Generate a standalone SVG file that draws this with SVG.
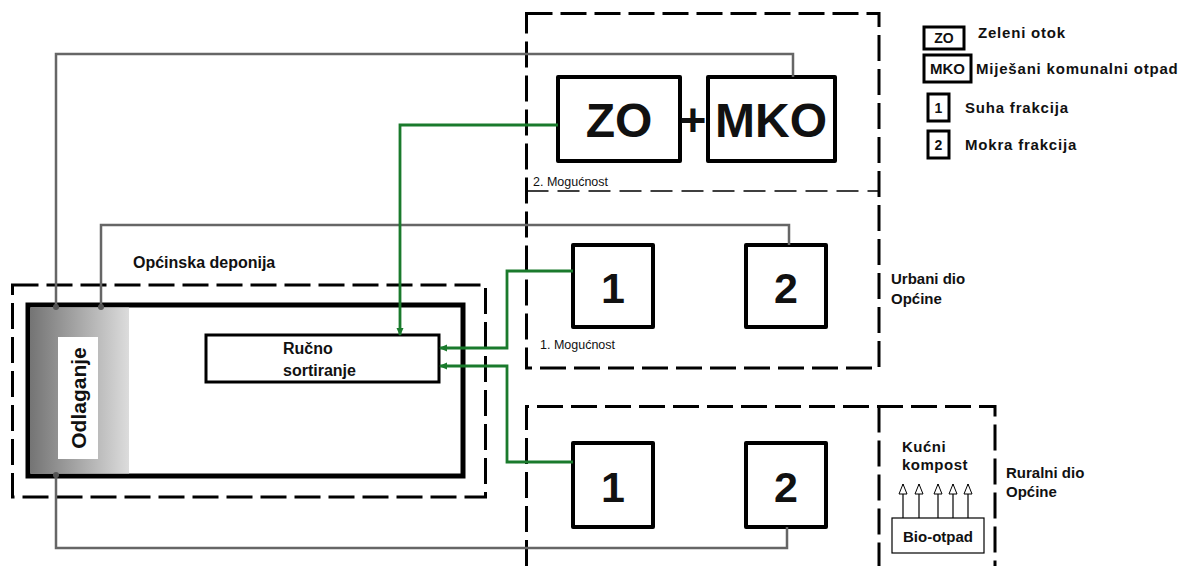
<svg xmlns="http://www.w3.org/2000/svg" width="1182" height="566" viewBox="0 0 1182 566">
<style>
text{font-family:"Liberation Sans",Arial,sans-serif;fill:#111}
.b{font-weight:bold}
.lg{font-weight:bold;font-size:15px;letter-spacing:0.8px}
.dash{fill:none;stroke:#000;stroke-width:3;stroke-dasharray:26 8}
.dash2{fill:none;stroke:#000;stroke-width:1.6;stroke-dasharray:22 9}
.box{fill:#fff;stroke:#000;stroke-width:4;stroke-linejoin:round}
.lbox{fill:#fff;stroke:#000;stroke-width:3}
.gray{fill:none;stroke:#666;stroke-width:2.5}
.green{fill:none;stroke:#1a7a2c;stroke-width:2.8}
.thin{fill:none;stroke:#000;stroke-width:1.2}
</style>
<defs>
<linearGradient id="gr" x1="0" y1="0" x2="1" y2="0">
<stop offset="0" stop-color="#747474"/>
<stop offset="1" stop-color="#dcdcdc"/>
</linearGradient>
<marker id="ga" markerWidth="8" markerHeight="8" refX="7" refY="4" orient="auto" markerUnits="userSpaceOnUse">
<path d="M0,0.5 L8,4 L0,7.5 Z" fill="#1a7a2c"/>
</marker>
<marker id="oa" markerWidth="12" markerHeight="10" refX="11" refY="5" orient="auto" markerUnits="userSpaceOnUse">
<path d="M1,1 L11,5 L1,9 Z" fill="#fff" stroke="#000" stroke-width="1"/>
</marker>
</defs>

<g id="regions">
<rect class="dash" x="526.5" y="13.5" width="352.5" height="354.5"/>
<line class="dash2" x1="526.5" y1="191" x2="879" y2="191"/>
<path class="dash" d="M526.5,566 V406.5 H995 V566"/>
<line class="dash" x1="879" y1="406.5" x2="879" y2="566"/>
<rect class="dash" x="12.5" y="285" width="473" height="212"/>
</g>

<g id="deponija">
<rect x="28" y="305" width="435" height="171" fill="#fff" stroke="#000" stroke-width="5"/>
<text class="b" x="133" y="268" font-size="16">Općinska deponija</text>
</g>

<g id="odlaganje">
<rect x="30" y="307.5" width="99" height="166" fill="url(#gr)"/>
<rect x="58" y="337" width="40" height="122" fill="#fff"/>
<text class="b" x="0" y="0" font-size="21" text-anchor="middle" transform="translate(86,398) rotate(-90)">Odlaganje</text>
</g>

<g id="rucno">
<rect x="206" y="335" width="233" height="47" fill="#fff" stroke="#000" stroke-width="3"/>
<text class="b" x="283" y="354" font-size="16">Ručno</text>
<text class="b" x="283" y="376" font-size="16">sortiranje</text>
</g>

<g id="zo">
<rect class="box" x="558" y="77" width="122" height="84"/>
<text class="b" x="619" y="137" font-size="48" text-anchor="middle">ZO</text>
</g>
<text class="b" x="693" y="136" font-size="46" text-anchor="middle">+</text>
<g id="mko">
<rect class="box" x="708" y="77" width="127" height="84"/>
<text class="b" x="771" y="137" font-size="48" text-anchor="middle">MKO</text>
</g>
<text x="533" y="186" font-size="12.5" fill="#333">2. Mogućnost</text>

<g id="u1">
<rect class="box" x="573" y="245" width="80" height="82"/>
<text class="b" x="613" y="303" font-size="43" text-anchor="middle">1</text>
</g>
<g id="u2">
<rect class="box" x="746" y="245" width="80" height="82"/>
<text class="b" x="786" y="303" font-size="43" text-anchor="middle">2</text>
</g>
<text x="540" y="349" font-size="12.5" fill="#333">1. Mogućnost</text>
<g id="urbani">
<text class="b" x="891" y="284" font-size="15">Urbani dio</text>
<text class="b" x="891" y="304" font-size="15">Općine</text>
</g>

<g id="r1">
<rect class="box" x="573" y="443" width="80" height="84"/>
<text class="b" x="613" y="502" font-size="43" text-anchor="middle">1</text>
</g>
<g id="r2">
<rect class="box" x="746" y="443" width="80" height="84"/>
<text class="b" x="786" y="502" font-size="43" text-anchor="middle">2</text>
</g>
<g id="ruralni">
<text class="b" x="1006" y="478" font-size="15">Ruralni dio</text>
<text class="b" x="1006" y="497" font-size="15">Općine</text>
</g>

<g id="kompost">
<text class="b" x="902" y="452" font-size="15" letter-spacing="0.5">Kućni</text>
<text class="b" x="902" y="470" font-size="15" letter-spacing="0.5">kompost</text>
</g>
<g id="bio">
<rect x="892" y="518" width="92" height="35" fill="#fff" stroke="#000" stroke-width="1.2"/>
<text class="b" x="938" y="542" font-size="15" text-anchor="middle">Bio-otpad</text>
</g>

<g id="legend">
<rect class="lbox" x="924" y="27" width="40" height="22"/>
<text class="b" x="944" y="43" font-size="14" text-anchor="middle">ZO</text>
<text class="lg" x="978" y="38">Zeleni otok</text>
<rect class="lbox" x="924" y="55" width="47" height="27"/>
<text class="b" x="947.5" y="74" font-size="15" text-anchor="middle">MKO</text>
<text class="lg" x="976" y="74" letter-spacing="0.4">Miješani komunalni otpad</text>
<rect class="lbox" x="928" y="94" width="21" height="27"/>
<text class="b" x="938.5" y="113" font-size="14" text-anchor="middle">1</text>
<text class="lg" x="965" y="113">Suha frakcija</text>
<rect class="lbox" x="928" y="131" width="21" height="27"/>
<text class="b" x="938.5" y="150" font-size="14" text-anchor="middle">2</text>
<text class="lg" x="965" y="150">Mokra frakcija</text>
</g>

<g id="connectors">
<path class="gray" d="M56,307 V54 H793 V77"/>
<path class="gray" d="M101,307 V225 H789 V245"/>
<path class="gray" d="M56,475 V548 H787 V527"/>
<circle cx="56" cy="307" r="3" fill="#555"/>
<circle cx="101" cy="307" r="3" fill="#555"/>
<circle cx="56" cy="475" r="3" fill="#555"/>
<path class="green" d="M558,125 H400 V335" marker-end="url(#ga)"/>
<path class="green" d="M573,271 H507 V348 H440" marker-end="url(#ga)"/>
<path class="green" d="M573,462 H507 V366 H440" marker-end="url(#ga)"/>
<line class="thin" x1="903" y1="518" x2="903" y2="484" marker-end="url(#oa)"/>
<line class="thin" x1="919" y1="518" x2="919" y2="484" marker-end="url(#oa)"/>
<line class="thin" x1="938" y1="518" x2="938" y2="484" marker-end="url(#oa)"/>
<line class="thin" x1="953" y1="518" x2="953" y2="484" marker-end="url(#oa)"/>
<line class="thin" x1="968" y1="518" x2="968" y2="484" marker-end="url(#oa)"/>
</g>
</svg>
